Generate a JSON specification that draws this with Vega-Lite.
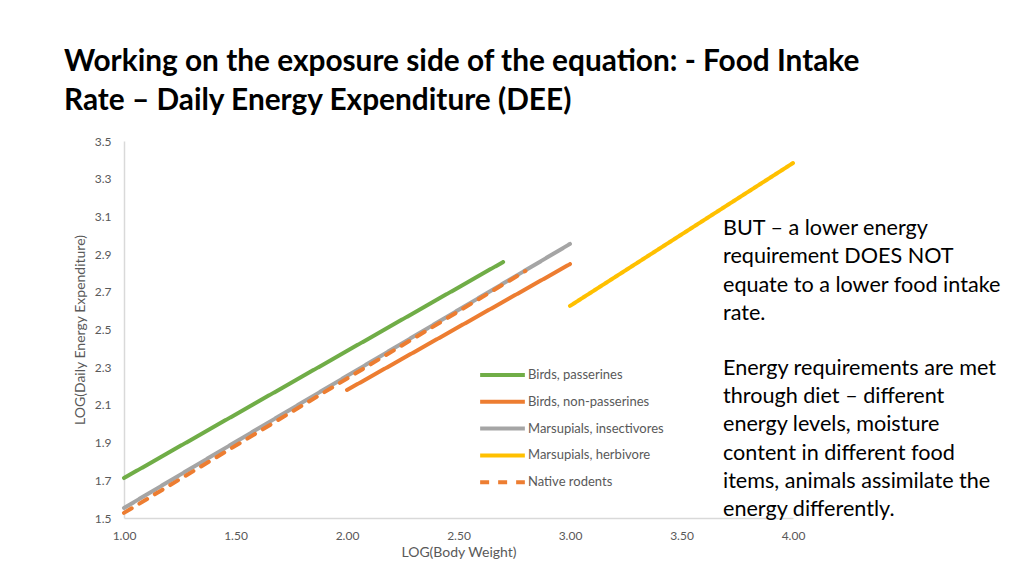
{
  "$schema": "https://vega.github.io/schema/vega-lite/v6.json",
  "width": 669,
  "height": 377,
  "autosize": {"type": "none"},
  "padding": {"left": 124, "top": 141, "right": 231, "bottom": 58},
  "background": "white",
  "config": {"view": {"stroke": null}, "font": "Lato"},
  "title": {
    "text": ["Working on the exposure side of the equation: - Food Intake", "Rate – Daily Energy Expenditure (DEE)"],
    "anchor": "start",
    "frame": "group",
    "dx": -60,
    "offset": 19,
    "font": "Lato",
    "fontSize": 29.8,
    "fontWeight": "bold",
    "color": "#000000",
    "lineHeight": 39
  },
  "layer": [
    {
      "data": {"values": [
        {"series": "Birds, passerines", "x": 1.0, "y": 1.712},
        {"series": "Birds, passerines", "x": 2.7, "y": 2.858},
        {"series": "Birds, non-passerines", "x": 2.0, "y": 2.179},
        {"series": "Birds, non-passerines", "x": 3.0, "y": 2.847},
        {"series": "Marsupials, insectivores", "x": 1.0, "y": 1.553},
        {"series": "Marsupials, insectivores", "x": 3.0, "y": 2.954},
        {"series": "Marsupials, herbivore", "x": 3.0, "y": 2.625},
        {"series": "Marsupials, herbivore", "x": 4.0, "y": 3.383},
        {"series": "Native rodents", "x": 1.0, "y": 1.527},
        {"series": "Native rodents", "x": 2.8, "y": 2.81}
      ]},
      "mark": {"type": "line", "strokeWidth": 4, "strokeCap": "round"},
      "encoding": {
        "x": {
          "field": "x", "type": "quantitative",
          "scale": {"domain": [1, 4], "nice": false, "zero": false},
          "axis": {
            "title": "LOG(Body Weight)", "values": [1, 1.5, 2, 2.5, 3, 3.5, 4], "format": ".2f", "tickCount": 20,
            "grid": false, "ticks": false, "domainColor": "#d9d9d9", "domainWidth": 1.5,
            "labelOverlap": false, "labelFlush": false, "labelBound": false,
            "labelColor": "#595959", "labelFontSize": 12, "labelPadding": 12, "labelFont": "Lato",
            "titleColor": "#595959", "titleFontSize": 14, "titleFontWeight": "normal", "titleFont": "Lato", "titlePadding": 4
          }
        },
        "y": {
          "field": "y", "type": "quantitative",
          "scale": {"domain": [1.5, 3.5], "nice": false, "zero": false},
          "axis": {
            "title": "LOG(Daily Energy Expenditure)", "values": [1.5, 1.7, 1.9, 2.1, 2.3, 2.5, 2.7, 2.9, 3.1, 3.3, 3.5], "format": ".1f", "tickCount": 20,
            "grid": false, "ticks": false, "domainColor": "#d9d9d9", "domainWidth": 1.5,
            "labelOverlap": false, "labelFlush": false, "labelBound": false,
            "labelColor": "#595959", "labelFontSize": 12, "labelPadding": 13, "labelFont": "Lato",
            "titleColor": "#595959", "titleFontSize": 14, "titleFontWeight": "normal", "titleFont": "Lato", "titlePadding": 7
          }
        },
        "color": {
          "field": "series", "type": "nominal",
          "sort": ["Birds, passerines", "Birds, non-passerines", "Marsupials, insectivores", "Marsupials, herbivore", "Native rodents"],
          "scale": {
            "domain": ["Birds, passerines", "Birds, non-passerines", "Marsupials, insectivores", "Marsupials, herbivore", "Native rodents"],
            "range": ["#70AD47", "#ED7D31", "#A5A5A5", "#FFC000", "#ED7D31"]
          },
          "legend": {
            "title": null, "orient": "none", "legendX": 354, "legendY": 224,
            "symbolType": "stroke", "symbolSize": 2000, "symbolStrokeWidth": 4,
            "clipHeight": 20, "rowPadding": 6.8, "labelOffset": 1,
            "labelColor": "#595959", "labelFontSize": 13, "labelFont": "Lato"
          }
        },
        "strokeDash": {
          "field": "series", "type": "nominal",
          "sort": ["Birds, passerines", "Birds, non-passerines", "Marsupials, insectivores", "Marsupials, herbivore", "Native rodents"],
          "scale": {
            "domain": ["Birds, passerines", "Birds, non-passerines", "Marsupials, insectivores", "Marsupials, herbivore", "Native rodents"],
            "range": [[1, 0], [1, 0], [1, 0], [1, 0], [9, 9]]
          },
          "legend": {
            "title": null, "orient": "none", "legendX": 354, "legendY": 224,
            "symbolType": "stroke", "symbolSize": 2000, "symbolStrokeWidth": 4,
            "clipHeight": 20, "rowPadding": 6.8, "labelOffset": 1,
            "labelColor": "#595959", "labelFontSize": 13, "labelFont": "Lato"
          }
        },
        "order": {"field": "x", "type": "quantitative"}
      }
    },
    {
      "data": {"values": [
        {"x": 3.686, "y": 3.09, "note": "BUT – a lower energy\nrequirement DOES NOT\nequate to a lower food intake\nrate."},
        {"x": 3.686, "y": 2.349, "note": "Energy requirements are met\nthrough diet – different\nenergy levels, moisture\ncontent in different food\nitems, animals assimilate the\nenergy differently."}
      ]},
      "mark": {"type": "text", "align": "left", "baseline": "top", "fontSize": 21.6, "lineHeight": 28.2, "font": "Lato", "color": "#000000", "lineBreak": "\n"},
      "encoding": {
        "x": {"field": "x", "type": "quantitative"},
        "y": {"field": "y", "type": "quantitative"},
        "text": {"field": "note", "type": "nominal"}
      }
    }
  ]
}
